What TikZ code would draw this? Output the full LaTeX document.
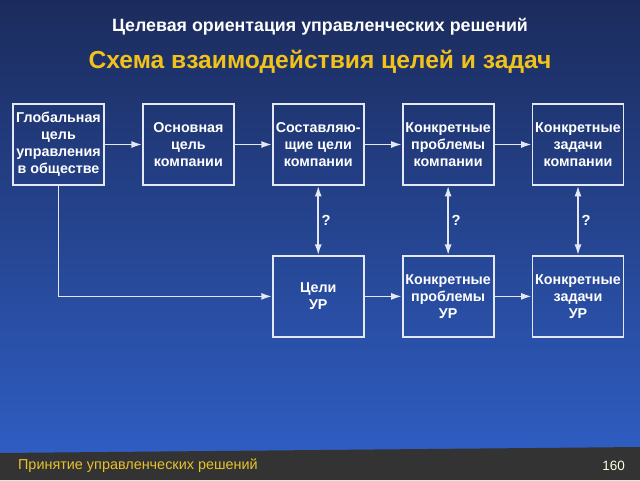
\documentclass[tikz,border=0pt]{standalone}
\usepackage{fontspec}
\setmainfont{Liberation Sans}
\usetikzlibrary{positioning, arrows.meta}

\definecolor{bgtop}{HTML}{1B2B5C}
\definecolor{bgmid}{HTML}{223F86}
\definecolor{bgbot}{HTML}{2F5DC2}
\definecolor{footbar}{HTML}{333333}
\definecolor{titleyellow}{HTML}{F2C21A}
\definecolor{footyellow}{HTML}{E8C22C}
\definecolor{boxline}{HTML}{E4E8F2}

\begin{document}
\begin{tikzpicture}[x=0.3mm, y=-0.3mm, >={Latex[length=9pt, width=6pt]}, node distance=2.07cm and 1.11cm,
    box/.style={draw=boxline, line width=1.6pt, minimum width=2.73cm, minimum height=2.43cm,
        align=center, text=white, inner sep=1pt, font=\bfseries\fontsize{12.2}{14.5}\selectfont},
    link/.style={->, draw=boxline, line width=1.3pt},
    both/.style={<->, draw=boxline, line width=1.3pt},
    ask/.style={text=white, font=\bfseries\fontsize{12.5}{14}\selectfont}]
    % background and footer bar
    \useasboundingbox (0,0) rectangle (640,480);
    \shade[top color=bgtop, middle color=bgmid, bottom color=bgbot] (0,0) rectangle (640,453);
    \fill[footbar] (0,453) -- (640,447) -- (640,480) -- (0,480) -- cycle;

    % headings
    \node[text=white, font=\bfseries\fontsize{15.2}{17}\selectfont] (head) at (320,27) {Целевая ориентация управленческих решений};
    \node[text=titleyellow, font=\bfseries\fontsize{21}{24}\selectfont] (title) at (320,62) {Схема взаимодействия целей и задач};

    % upper row: company
    \node[box] (global) at (58.5,144.5) {Глобальная\\цель\\управления\\в обществе};
    \node[box] (maingoal) [right=of global] {Основная\\цель\\компании};
    \node[box] (subgoals) [right=of maingoal] {Составляю-\\щие цели\\компании};
    \node[box] (probcomp) [right=of subgoals] {Конкретные\\проблемы\\компании};
    \node[box] (taskcomp) [right=of probcomp] {Конкретные\\задачи\\компании};

    % lower row: УР
    \node[box] (goalur) [below=of subgoals] {Цели\\УР};
    \node[box] (probur) [below=of probcomp] {Конкретные\\проблемы\\УР};
    \node[box] (taskur) [below=of taskcomp] {Конкретные\\задачи\\УР};

    \coordinate (bend) at (global.south |- goalur.west);

    \draw[link] (global) -- (maingoal);
    \draw[link] (maingoal) -- (subgoals);
    \draw[link] (subgoals) -- (probcomp);
    \draw[link] (probcomp) -- (taskcomp);
    \draw[link] (goalur) -- (probur);
    \draw[link] (probur) -- (taskur);
    \draw[link] (global.south) -- (bend) -- (goalur.west);

    \draw[both] (subgoals) -- node[ask, right=-1pt] {?} (goalur);
    \draw[both] (probcomp) -- node[ask, right=-1pt] {?} (probur);
    \draw[both] (taskcomp) -- node[ask, right=-1pt] {?} (taskur);

    % footer
    \node[text=footyellow, anchor=west, font=\fontsize{12.3}{14}\selectfont] (foot) at (14,466) {Принятие управленческих решений};
    \node[text=white!90!yellow, anchor=east, font=\fontsize{11.5}{13}\selectfont] (page) at (629,466) {160};
\end{tikzpicture}
\end{document}
